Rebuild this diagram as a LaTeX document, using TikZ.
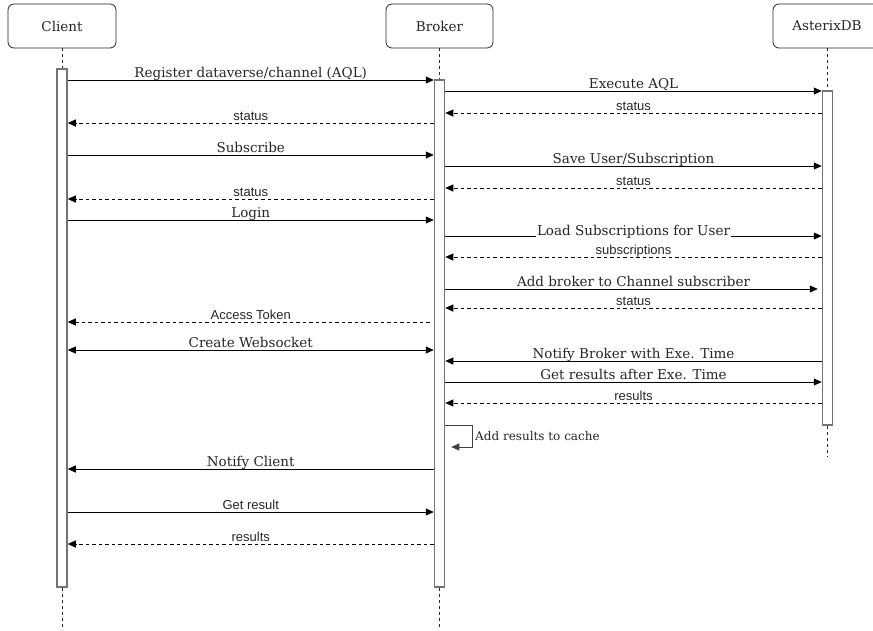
\documentclass[tikz,border=0pt]{standalone}
\usepackage{fontspec}
\setmainfont{DejaVu Serif}
\setsansfont{Liberation Sans}
\usetikzlibrary{arrows.meta}

\begin{document}
\begin{tikzpicture}[x=1pt,y=-1pt,
  actor/.style={draw=black!85,line width=0.8pt,rounded corners=6pt,minimum width=108pt,minimum height=44pt,font=\fontsize{13.5}{15}\selectfont,text=black!85},
  bar/.style={draw=black!55,line width=1.5pt,fill=white,minimum width=10pt,inner sep=0pt},
  lifeline/.style={black!85,line width=0.7pt,dash pattern=on 3pt off 3pt},
  call/.style={line width=0.8pt,-{Triangle[length=8pt,width=7pt]}},
  reply/.style={line width=0.8pt,dash pattern=on 3.5pt off 3pt,-{Triangle[length=8pt,width=7pt]}},
  lbl/.style={anchor=base,yshift=3pt,inner sep=0pt,text=black!85,font=\fontsize{13.5}{15}\selectfont},
  slbl/.style={lbl,font=\sffamily\fontsize{13}{15}\selectfont},
  note/.style={anchor=west,inner sep=0pt,text=black!85,font=\fontsize{12}{14}\selectfont}]
\clip (0,0) rectangle (873,630);

% participants
\node[actor] (client) at (62,26) {Client};
\node[actor,minimum width=107pt] (broker) at (439.5,26) {Broker};
\node[actor] (asterix) at (827,26) {AsterixDB};

% activation bars
\node[bar,minimum height=518pt] (cbar) at (62,328) {};
\node[bar,minimum height=507pt] (bbar) at (439.5,333.5) {};
\node[bar,minimum height=334pt] (abar) at (827.5,258) {};

% lifelines
\coordinate (cend) at (62,628);
\coordinate (bend) at (439.5,628);
\coordinate (aend) at (827.5,457);
\draw[lifeline] (client) -- (cbar);
\draw[lifeline] (cbar) -- (cend);
\draw[lifeline] (broker) -- (bbar);
\draw[lifeline] (bbar) -- (bend);
\draw[lifeline] (asterix.south -| abar) -- (abar);
\draw[lifeline] (abar) -- (aend);

% messages
\draw[call] (cbar.east |- 0,80) -- node[lbl]{Register dataverse/channel (AQL)} (bbar.west |- 0,80);
\draw[call] (bbar.east |- 0,91) -- node[lbl]{Execute AQL} (abar.west |- 0,91);
\draw[reply] (abar.west |- 0,113) -- node[slbl]{status} (bbar.east |- 0,113);
\draw[reply] (bbar.west |- 0,123) -- node[slbl]{status} (cbar.east |- 0,123);
\draw[call] (cbar.east |- 0,155) -- node[lbl]{Subscribe} (bbar.west |- 0,155);
\draw[call] (bbar.east |- 0,166) -- node[lbl]{Save User/Subscription} (abar.west |- 0,166);
\draw[reply] (abar.west |- 0,188) -- node[slbl]{status} (bbar.east |- 0,188);
\draw[reply] (bbar.west |- 0,199) -- node[slbl]{status} (cbar.east |- 0,199);
\draw[call] (cbar.east |- 0,220) -- node[lbl]{Login} (bbar.west |- 0,220);
\draw[call] (bbar.east |- 0,236) -- node[lbl,fill=white,inner sep=1pt,yshift=-2pt]{Load Subscriptions for User} (abar.west |- 0,236);
\draw[reply] (abar.west |- 0,257) -- node[slbl]{subscriptions} (bbar.east |- 0,257);
\draw[call,shorten >=4pt] (bbar.east |- 0,289) -- node[lbl]{Add broker to Channel subscriber} (abar.west |- 0,289);
\draw[reply] (abar.west |- 0,308) -- node[slbl]{status} (bbar.east |- 0,308);
\draw[reply,shorten <=4pt] (bbar.west |- 0,322) -- node[slbl]{Access Token} (cbar.east |- 0,322);
\draw[call,{Triangle[length=8pt,width=7pt]}-{Triangle[length=8pt,width=7pt]}] (cbar.east |- 0,350) -- node[lbl]{Create Websocket} (bbar.west |- 0,350);
\draw[call] (abar.west |- 0,361) -- node[lbl]{Notify Broker with Exe. Time} (bbar.east |- 0,361);
\draw[call] (bbar.east |- 0,382) -- node[lbl]{Get results after Exe. Time} (abar.west |- 0,382);
\draw[reply] (abar.west |- 0,403) -- node[slbl]{results} (bbar.east |- 0,403);

% self call
\coordinate (selfa) at (472,425);
\coordinate (selfb) at (472,447);
\draw[call,black!75,line width=1pt] (bbar.east |- selfa) -- (selfa) -- (selfb) -- ([xshift=6pt]bbar.east |- selfb);
\node[note] (cache) at (475,436) {Add results to cache};

\draw[call] (bbar.west |- 0,469) -- node[lbl]{Notify Client} (cbar.east |- 0,469);
\draw[call] (cbar.east |- 0,512) -- node[slbl]{Get result} (bbar.west |- 0,512);
\draw[reply] (bbar.west |- 0,544) -- node[slbl]{results} (cbar.east |- 0,544);
\end{tikzpicture}
\end{document}
